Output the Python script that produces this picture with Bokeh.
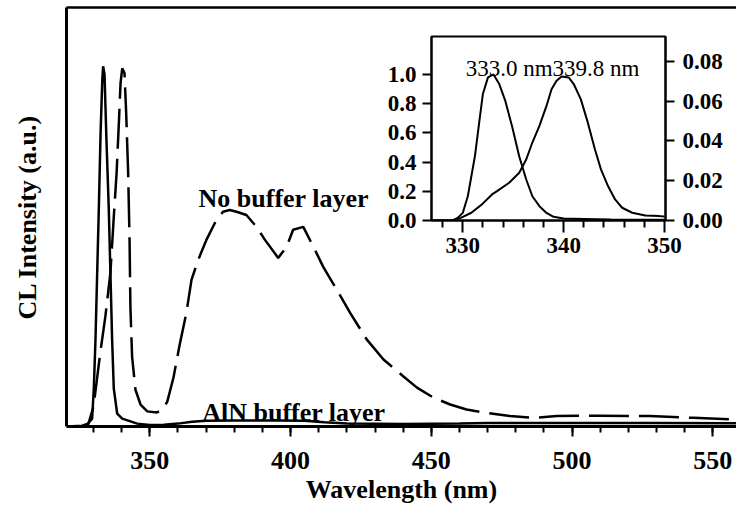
from bokeh.plotting import figure
from bokeh.models import (LinearAxis, Range1d, FixedTicker, SingleIntervalTicker,
                          PrintfTickFormatter, ColumnDataSource)
from bokeh.layouts import row
from bokeh.core.properties import value
from bokeh.embed import file_html
from bokeh.resources import INLINE

FONT = "Liberation Serif"

# ---------------- main spectra ----------------
wl_aln = [320.5, 326.0, 328.0, 329.5, 330.1, 330.7, 331.3, 331.9, 332.5, 333.1, 333.4,
          333.9, 334.6, 335.4, 336.0, 336.6, 337.2, 338.4, 340.2, 345.5, 350.0, 355.0,
          360.0, 365.0, 370.0, 380.0, 395.0, 405.0, 412.0, 420.0, 440.0, 460.0, 470.0,
          500.0, 530.0, 558.4]
int_aln = [0.0, 0.002, 0.008, 0.022, 0.105, 0.242, 0.427, 0.609, 0.813, 0.959, 1.0,
           0.978, 0.793, 0.609, 0.427, 0.242, 0.105, 0.036, 0.022, 0.008, 0.004, 0.005,
           0.008, 0.013, 0.016, 0.017, 0.017, 0.016, 0.012, 0.008, 0.007, 0.008, 0.010,
           0.010, 0.010, 0.009]

wl_nobuf = [320.5, 326.0, 328.0, 330.0, 332.4, 334.2, 336.0, 337.2, 338.2, 339.0, 339.6,
            340.2, 341.0, 341.6, 342.3, 342.8, 343.1, 343.7, 344.9, 346.7, 349.1, 352.5,
            354.5, 356.2, 358.4, 360.6, 363.0, 364.8, 367.2, 370.1, 373.1, 376.0, 378.4,
            380.8, 384.3, 387.9, 390.9, 395.6, 398.6, 400.9, 404.5, 408.1, 411.6, 416.4,
            421.1, 427.1, 433.0, 440.1, 444.9, 450.8, 456.7, 462.5, 468.4, 477.9, 486.2,
            494.5, 509.9, 527.6, 543.0, 558.4]
int_nobuf = [0.0, 0.0, 0.003, 0.055, 0.205, 0.305, 0.427, 0.582, 0.704, 0.842, 0.953,
             0.994, 0.981, 0.870, 0.704, 0.518, 0.332, 0.194, 0.102, 0.061, 0.042, 0.039,
             0.047, 0.069, 0.136, 0.227, 0.316, 0.407, 0.463, 0.518, 0.565, 0.596, 0.601,
             0.596, 0.587, 0.554, 0.518, 0.468, 0.499, 0.546, 0.554, 0.499, 0.443, 0.380,
             0.316, 0.241, 0.186, 0.139, 0.108, 0.080, 0.061, 0.047, 0.039, 0.029, 0.024,
             0.029, 0.030, 0.029, 0.024, 0.019]

main_label_text = ["No buffer layer", "AlN buffer layer"]
main_label_x = [367.3, 368.6]
main_label_y = [0.634, 0.039]

# ---------------- inset spectra ----------------
inset_wl_aln = [326.9, 329.0, 329.5, 330.0, 330.5, 331.2, 331.7, 332.0, 332.5, 333.05,
                333.6, 334.2, 334.9, 335.6, 336.3, 336.9, 337.6, 338.3, 339.0, 340.0,
                342.0, 344.7, 350.0]
inset_int_aln = [0.0, 0.0, 0.018, 0.052, 0.166, 0.438, 0.71, 0.868, 0.98, 1.0,
                 0.937, 0.823, 0.642, 0.438, 0.279, 0.166, 0.098, 0.052, 0.025, 0.014,
                 0.011, 0.007, 0.005]

inset_wl_nobuf = [326.9, 329.0, 329.8, 330.85, 331.9, 332.9, 333.4, 334.6, 335.6, 336.3,
                  336.9, 337.6, 338.3, 338.8, 339.3, 339.8, 340.5, 341.0, 341.7, 342.4,
                  343.1, 343.7, 344.4, 345.1, 345.8, 346.8, 348.1, 349.5, 350.0]
inset_int_nobuf = [0.0, 0.0, 0.0013, 0.0039, 0.0081, 0.0131, 0.0148, 0.019, 0.024, 0.0308,
                   0.0392, 0.0476, 0.0576, 0.066, 0.0703, 0.0724, 0.0719, 0.0686, 0.061,
                   0.0492, 0.0358, 0.0257, 0.0173, 0.0106, 0.0064, 0.0039, 0.0025, 0.0022,
                   0.002]

inset_x_ticks = [330, 340, 350]
inset_x_minor = [328, 332, 334, 336, 338, 342, 344, 346, 348]
inset_left_ticks = [0.0, 0.2, 0.4, 0.6, 0.8, 1.0]
inset_right_ticks = [0.0, 0.02, 0.04, 0.06, 0.08]

inset_label_text = ["333.0 nm", "339.8 nm"]
inset_label_x = [338.9, 338.9]
inset_label_y = [1.04, 1.04]

# ---------------- main figure ----------------
p = figure(width=736, height=506, x_range=(320.4, 558.4), y_range=(0, 1.163),
           output_backend="svg", toolbar_location=None,
           min_border_left=66, min_border_right=0, min_border_top=7, min_border_bottom=79)
p.outline_line_color = None
p.grid.visible = False
p.background_fill_color = "white"
p.border_fill_color = "white"

p.line(wl_nobuf, int_nobuf, line_color="black", line_width=2.5, line_dash="40 10")
p.line(wl_aln, int_aln, line_color="black", line_width=2.5)

lab_src = ColumnDataSource(dict(x=main_label_x, y=main_label_y, t=main_label_text))
p.text(x="x", y="y", text="t", source=lab_src, text_font=value(FONT),
       text_font_style="bold", text_font_size="26px", text_color="black",
       text_align="left", text_baseline="alphabetic")

xa = p.xaxis[0]
xa.ticker = SingleIntervalTicker(interval=50, num_minor_ticks=5)
xa.axis_line_width = 3
xa.major_tick_line_width = 2
xa.minor_tick_line_width = 2
xa.major_tick_in = 0
xa.major_tick_out = 10
xa.minor_tick_in = 0
xa.minor_tick_out = 6
xa.major_label_text_font = FONT
xa.major_label_text_font_style = "bold"
xa.major_label_text_font_size = "26px"
xa.major_label_text_color = "black"
xa.major_label_standoff = 15
xa.axis_label = "Wavelength (nm)"
xa.axis_label_text_font = FONT
xa.axis_label_text_font_style = "bold"
xa.axis_label_text_font_size = "26px"
xa.axis_label_text_color = "black"
xa.axis_label_standoff = 3

ya = p.yaxis[0]
ya.ticker = FixedTicker(ticks=[])
ya.axis_line_width = 3
ya.major_tick_out = 0
ya.major_tick_in = 0
ya.minor_tick_out = 0
ya.minor_tick_in = 0
ya.axis_label = "CL Intensity (a.u.)"
ya.axis_label_text_font = FONT
ya.axis_label_text_font_style = "bold"
ya.axis_label_text_font_size = "26px"
ya.axis_label_text_color = "black"
ya.axis_label_standoff = 25

top_axis = LinearAxis(ticker=FixedTicker(ticks=[]), axis_line_width=2.5,
                      major_tick_out=0, major_tick_in=0, minor_tick_out=0, minor_tick_in=0,
                      major_label_text_font_size="0px")
p.add_layout(top_axis, "above")

# ---------------- inset figure ----------------
inset = figure(width=355, height=271, x_range=(326.9, 350.1), y_range=(0, 1.26),
               output_backend="svg", toolbar_location=None,
               min_border_left=56, min_border_right=65, min_border_top=7, min_border_bottom=79)
inset.extra_y_ranges = {"right": Range1d(0, 0.0925)}
inset.grid.visible = False
inset.outline_line_color = "black"
inset.outline_line_width = 2
inset.border_fill_color = None
inset.background_fill_color = "white"

inset.line(inset_wl_aln, inset_int_aln, line_color="black", line_width=2)
inset.line(inset_wl_nobuf, inset_int_nobuf, line_color="black", line_width=2,
           y_range_name="right")

ins_src1 = ColumnDataSource(dict(x=inset_label_x[:1], y=inset_label_y[:1], t=inset_label_text[:1]))
ins_src2 = ColumnDataSource(dict(x=inset_label_x[1:], y=inset_label_y[1:], t=inset_label_text[1:]))
inset.text(x="x", y="y", text="t", source=ins_src1, text_font=value(FONT),
           text_font_size="23px", text_color="black", text_align="right",
           text_baseline="alphabetic")
inset.text(x="x", y="y", text="t", source=ins_src2, text_font=value(FONT),
           text_font_size="23px", text_color="black", text_align="left",
           text_baseline="alphabetic")

right_axis = LinearAxis(y_range_name="right", ticker=FixedTicker(ticks=inset_right_ticks),
                        formatter=PrintfTickFormatter(format="%.2f"))
inset.add_layout(right_axis, "right")

ix = inset.xaxis[0]
ix.ticker = FixedTicker(ticks=inset_x_ticks, minor_ticks=inset_x_minor)
ix.major_tick_out = 12
ix.minor_tick_out = 7
iy = inset.yaxis[0]
iy.ticker = FixedTicker(ticks=inset_left_ticks)
iy.formatter = PrintfTickFormatter(format="%.1f")
for ax in (ix, iy, right_axis):
    ax.axis_line_width = 2
    ax.major_tick_line_width = 2
    ax.minor_tick_line_width = 2
    ax.major_tick_in = 0
    ax.minor_tick_in = 0
    ax.major_label_text_font = FONT
    ax.major_label_text_font_style = "bold"
    ax.major_label_text_font_size = "23px"
    ax.major_label_text_color = "black"
iy.major_tick_out = 9
iy.minor_tick_out = 0
right_axis.major_tick_out = 9
right_axis.minor_tick_out = 0
iy.major_label_standoff = 6
right_axis.major_label_standoff = 8
ix.major_label_standoff = 5

inset.styles = {"position": "absolute", "left": "375px", "top": "29px", "z-index": "5"}

layout = row(p, inset)
open("out.html", "w").write(file_html(layout, INLINE))
